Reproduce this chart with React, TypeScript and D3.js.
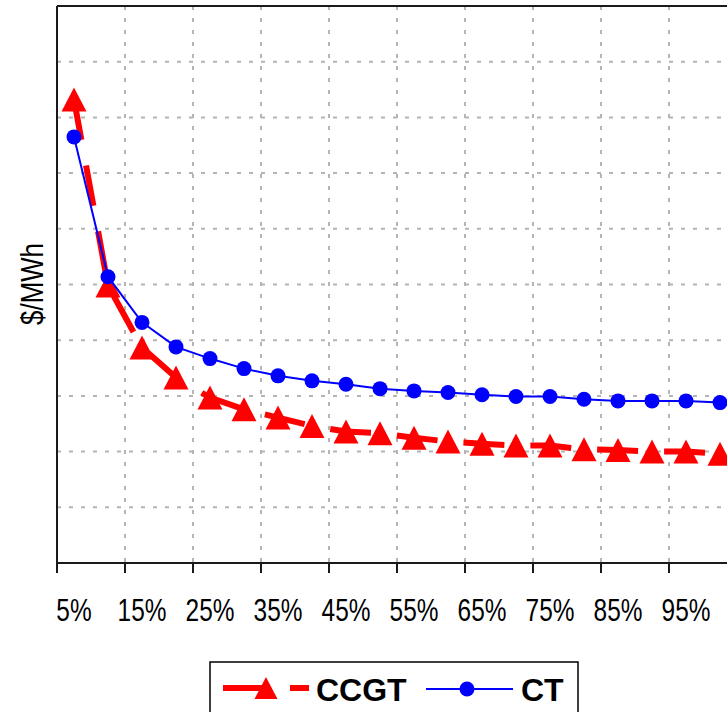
import { useEffect, useRef } from 'react';
import * as d3 from 'd3';

// load-duration buckets, one point per 5%
const categories = ["5%", "10%", "15%", "20%", "25%", "30%", "35%", "40%", "45%", "50%",
  "55%", "60%", "65%", "70%", "75%", "80%", "85%", "90%", "95%", "100%"];
const tickLabels = ["5%", "15%", "25%", "35%", "45%", "55%", "65%", "75%", "85%", "95%"];

const ccgtValues = [83.2, 49.8, 38.7, 33.3, 29.7, 27.6, 26.1, 24.6, 23.6, 23.3,
  22.5, 21.8, 21.4, 21.1, 21.1, 20.4, 20.3, 20.0, 20.0, 19.6];
const ctValues = [76.5, 51.4, 43.2, 38.8, 36.7, 34.9, 33.6, 32.7, 32.1, 31.3,
  30.9, 30.6, 30.2, 29.9, 29.9, 29.4, 29.1, 29.1, 29.1, 28.8];

const yTicks = [10, 20, 30, 40, 50, 60, 70, 80, 90];

const RED = "#ff0000";
const BLUE = "#0000ff";

function trianglePath(cx: number, cy: number, w: number, h: number) {
  return `M${cx},${cy - h / 2}L${cx + w / 2},${cy + h / 2}L${cx - w / 2},${cy + h / 2}Z`;
}

export default function App() {
  const svgRef = useRef<SVGSVGElement>(null);

  useEffect(() => {
    if (!svgRef.current) return;
    const svg = d3.select(svgRef.current);
    svg.selectAll("*").remove();

    const left = 57, top = 6, bottom = 563, right = 737;

    const x = d3.scaleBand<string>().domain(categories).range([left, right]);
    const cx = (c: string) => (x(c) ?? 0) + x.bandwidth() / 2;
    const y = d3.scaleLinear().domain([0, 100]).range([bottom, top]);

    svg.append("rect").attr("width", 727).attr("height", 712).attr("fill", "#fff");

    // grid
    const tickCats = categories.filter((_, i) => i % 2 === 0);
    const tickXs = [...tickCats.map(c => x(c) ?? 0), right];
    const grid = svg.append("g")
      .attr("stroke", "#b4b4b4")
      .attr("stroke-width", 2)
      .attr("stroke-dasharray", "4,8");
    grid.selectAll(".gy").data(yTicks).enter().append("line")
      .attr("x1", left).attr("x2", right)
      .attr("y1", d => y(d)).attr("y2", d => y(d));
    grid.selectAll(".gx").data(tickXs.slice(1)).enter().append("line")
      .attr("x1", d => d).attr("x2", d => d)
      .attr("y1", top).attr("y2", bottom);

    // plot frame + axes
    const axisColor = "#1a1a1a";
    svg.append("line").attr("x1", left).attr("x2", right).attr("y1", top).attr("y2", top)
      .attr("stroke", axisColor).attr("stroke-width", 2);
    svg.append("line").attr("x1", right).attr("x2", right).attr("y1", top).attr("y2", bottom)
      .attr("stroke", axisColor).attr("stroke-width", 2);
    svg.append("line").attr("x1", left).attr("x2", left).attr("y1", top).attr("y2", bottom)
      .attr("stroke", axisColor).attr("stroke-width", 2);
    svg.append("line").attr("x1", left).attr("x2", right).attr("y1", bottom).attr("y2", bottom)
      .attr("stroke", axisColor).attr("stroke-width", 2);
    svg.selectAll(".tick").data(tickXs).enter().append("line")
      .attr("x1", d => d).attr("x2", d => d)
      .attr("y1", bottom).attr("y2", bottom + 10)
      .attr("stroke", axisColor).attr("stroke-width", 2);

    svg.selectAll(".xlabel").data(tickLabels).enter().append("text")
      .attr("transform", d => `translate(${cx(d)},621) scale(0.77,1)`)
      .attr("text-anchor", "middle")
      .style("font-family", "'Liberation Sans', Arial, sans-serif")
      .style("font-size", "31.7px")
      .attr("fill", "#000")
      .text(d => d);

    svg.append("text")
      .attr("transform", "translate(43,284) rotate(-90) scale(0.82,1)")
      .attr("text-anchor", "middle")
      .style("font-family", "'Liberation Sans', Arial, sans-serif")
      .style("font-size", "31.5px")
      .attr("fill", "#000")
      .text("$/MWh");

    const line = d3.line<number>()
      .x((_, i) => cx(categories[i]))
      .y(d => y(d));

    // CCGT series
    svg.append("path")
      .datum(ccgtValues)
      .attr("fill", "none")
      .attr("stroke", RED)
      .attr("stroke-width", 6)
      .attr("stroke-dasharray", "41,26")
      .attr("d", line);
    svg.selectAll(".tri").data(ccgtValues).enter().append("path")
      .attr("d", (d, i) => trianglePath(cx(categories[i]), y(d), 25, 24))
      .attr("fill", RED);

    // CT series
    svg.append("path")
      .datum(ctValues)
      .attr("fill", "none")
      .attr("stroke", BLUE)
      .attr("stroke-width", 2)
      .attr("d", line);
    svg.selectAll(".dot").data(ctValues).enter().append("circle")
      .attr("cx", (_, i) => cx(categories[i]))
      .attr("cy", d => y(d))
      .attr("r", 7.5)
      .attr("fill", BLUE);

    // legend
    const lg = svg.append("g");
    lg.append("rect")
      .attr("x", 210).attr("y", 662).attr("width", 368).attr("height", 70)
      .attr("fill", "#fff").attr("stroke", "#000").attr("stroke-width", 1.5);
    lg.append("line")
      .attr("x1", 223).attr("x2", 309).attr("y1", 688).attr("y2", 688)
      .attr("stroke", RED).attr("stroke-width", 6).attr("stroke-dasharray", "41,26");
    lg.append("path").attr("d", trianglePath(266, 688, 23, 22)).attr("fill", RED);
    lg.append("text")
      .attr("x", 316).attr("y", 701)
      .style("font-family", "'Liberation Sans', Arial, sans-serif")
      .style("font-size", "32px").style("font-weight", "bold")
      .text("CCGT");
    lg.append("line")
      .attr("x1", 426).attr("x2", 513).attr("y1", 689).attr("y2", 689)
      .attr("stroke", BLUE).attr("stroke-width", 2);
    lg.append("circle").attr("cx", 467).attr("cy", 689).attr("r", 7.5).attr("fill", BLUE);
    lg.append("text")
      .attr("x", 521).attr("y", 701)
      .style("font-family", "'Liberation Sans', Arial, sans-serif")
      .style("font-size", "32px").style("font-weight", "bold")
      .text("CT");
  }, []);

  return (
    <svg
      ref={svgRef}
      width={727}
      height={712}
      style={{ position: "absolute", left: 0, top: 0, display: "block" }}
    />
  );
}
